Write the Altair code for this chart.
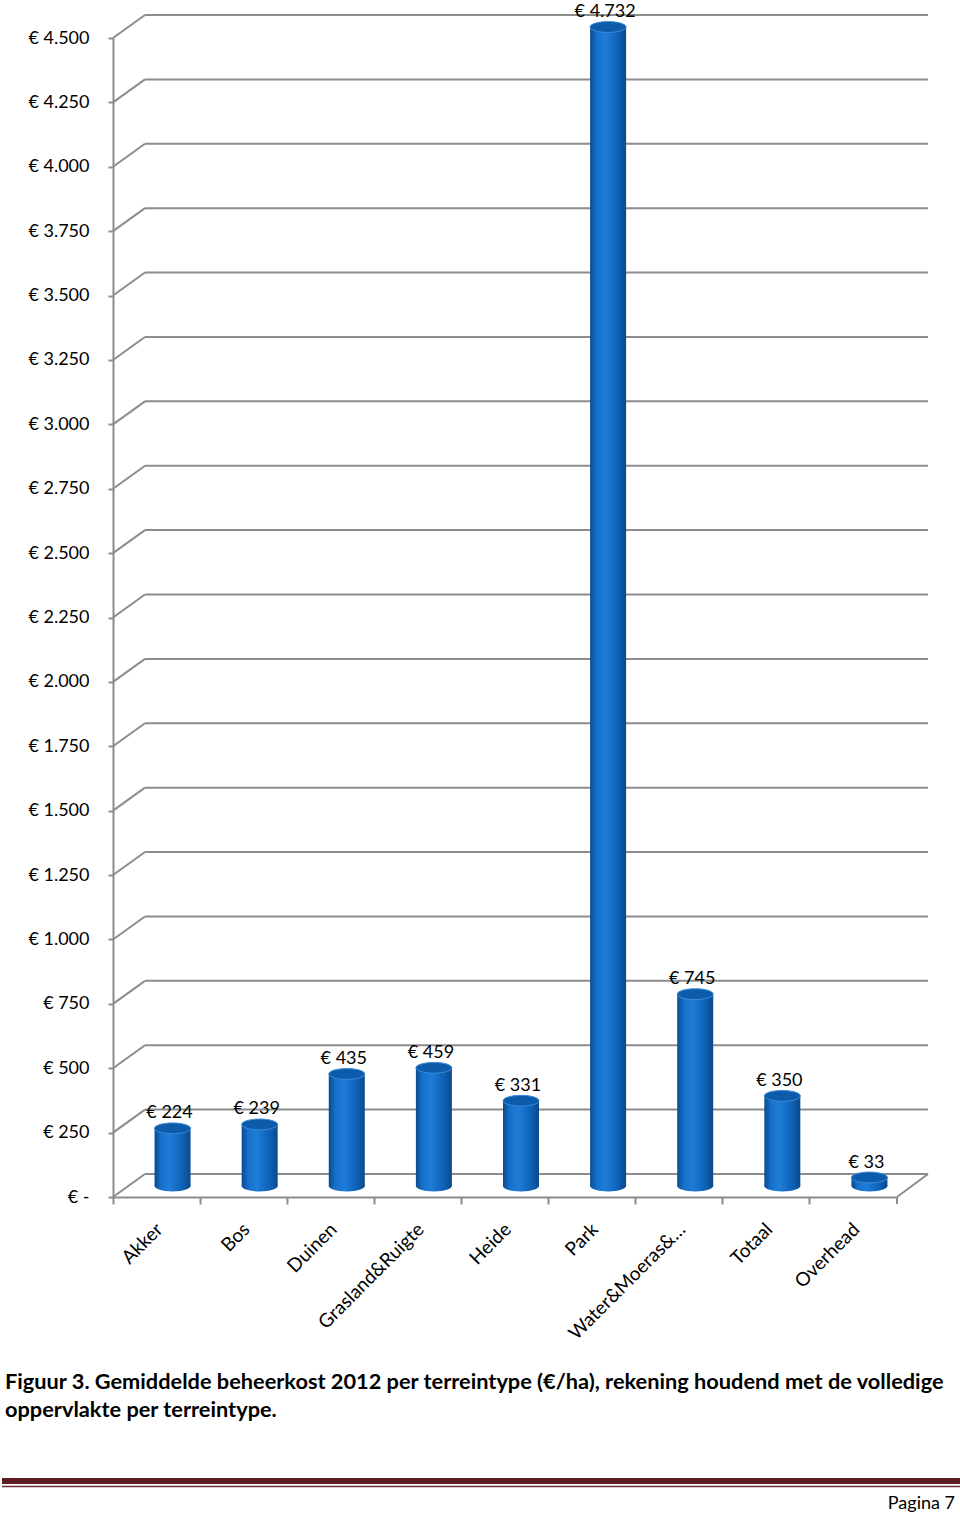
import altair as alt
import pandas as pd

categories = ["Akker", "Bos", "Duinen", "Grasland&Ruigte", "Heide", "Park",
              "Water&Moeras&…", "Totaal", "Overhead"]
values = [224, 239, 435, 459, 331, 4732, 745, 350, 33]
tick_values = list(range(0, 4501, 250))
caption_1 = "Figuur 3. Gemiddelde beheerkost 2012 per terreintype (€/ha), rekening houdend met de volledige"
caption_2 = "oppervlakte per terreintype."
page_label = "Pagina 7"

FONT = "Lato"
GRID = "#8C8C8C"

bars_df = pd.DataFrame({"cat": categories, "value": values})
ticks_df = pd.DataFrame({"v": tick_values})

yscale = alt.Scale(domain=[0, 4500], range=[1197, 38], clamp=True, nice=False, zero=True)
xscale = alt.Scale(domain=categories, range=[0, 784], paddingInner=0, paddingOuter=0)

euro_expr = "'€ ' + replace(format(datum.value, ','), ',', '.')"

yaxis = alt.Axis(
    title=None, values=tick_values,
    labelExpr="datum.value == 0 ? '€ -' : " + euro_expr,
    labelFont=FONT, labelFontSize=18, labelColor="#000000", labelPadding=19,
    tickSize=5, tickColor=GRID, tickWidth=2,
    domainColor=GRID, domainWidth=2, grid=False,
)
xaxis = alt.Axis(
    title=None, labelAngle=315, labelAlign="right", labelBaseline="middle",
    labelFont=FONT, labelFontSize=19, labelColor="#000000",
    bandPosition=0, labelOffset=3, labelPadding=22,
    tickSize=7, tickColor=GRID, tickWidth=2,
    domainColor=GRID, domainWidth=2, grid=False,
)

X = alt.X("cat:N", scale=xscale, axis=xaxis, sort=categories)

# 3D wall: diagonal connectors from the front axis to the back wall
diag = alt.Chart(ticks_df).mark_rule(color=GRID, strokeWidth=2, y2Offset=-23).encode(
    x=alt.value(0), x2=alt.value(32),
    y=alt.Y("v:Q", scale=yscale, axis=yaxis), y2=alt.Y2("v"),
)
back = alt.Chart(ticks_df).mark_rule(color=GRID, strokeWidth=2, yOffset=-23).encode(
    x=alt.value(32), x2=alt.value(815),
    y=alt.Y("v:Q", scale=yscale, axis=yaxis),
)
floor_df = pd.DataFrame({"v": [0]})
floor_right = alt.Chart(floor_df).mark_rule(color=GRID, strokeWidth=2, y2Offset=-23).encode(
    x=alt.value(784), x2=alt.value(815),
    y=alt.Y("v:Q", scale=yscale, axis=yaxis), y2=alt.Y2("v"),
)
last_tick = alt.Chart(floor_df).mark_rule(color=GRID, strokeWidth=2).encode(
    x=alt.value(784), y=alt.value(1197), y2=alt.value(1204),
)

bar_grad = {
    "gradient": "linear", "x1": 0, "y1": 0, "x2": 1, "y2": 0,
    "stops": [
        {"offset": 0, "color": "#0A4A8E"},
        {"offset": 0.18, "color": "#1670CA"},
        {"offset": 0.42, "color": "#1F7DD8"},
        {"offset": 0.75, "color": "#0F63BA"},
        {"offset": 1, "color": "#0A4A8C"},
    ],
}
ellipse = "M -1 0 A 1 0.3 0 1 1 1 0 A 1 0.3 0 1 1 -1 0 Z"

base = alt.Chart(bars_df)
bars = base.mark_bar(width=36, xOffset=16, yOffset=-11, y2Offset=-11, fill=bar_grad, strokeWidth=0).encode(
    x=X, y=alt.Y("value:Q", scale=yscale, axis=yaxis), y2=alt.datum(0),
)
bottoms = base.mark_point(shape=ellipse, size=1296, filled=True, fill=bar_grad, opacity=1,
                          strokeWidth=0, xOffset=16, yOffset=-11).encode(
    x=X, y=alt.datum(0, scale=yscale, axis=yaxis),
)
tops = base.mark_point(shape=ellipse, size=1296, filled=True, fill="#0D5CAC", opacity=1,
                       stroke="#3A8BD8", strokeWidth=1, xOffset=16, yOffset=-11).encode(
    x=X, y=alt.Y("value:Q", scale=yscale, axis=yaxis),
)
labels = base.transform_calculate(lbl=euro_expr).mark_text(
    font=FONT, fontSize=18, color="#000000", align="center", baseline="middle",
    xOffset=13, yOffset=-26,
).encode(
    x=X, y=alt.Y("value:Q", scale=yscale, axis=yaxis), text="lbl:N",
)

cap1 = alt.Chart(pd.DataFrame({"t": [caption_1]})).mark_text(
    font=FONT, fontSize=21.75, fontWeight="bold", align="left", baseline="alphabetic", color="#000000"
).encode(x=alt.value(-108), y=alt.value(1389), text="t:N")
cap2 = alt.Chart(pd.DataFrame({"t": [caption_2]})).mark_text(
    font=FONT, fontSize=21.75, fontWeight="bold", align="left", baseline="alphabetic", color="#000000"
).encode(x=alt.value(-108), y=alt.value(1417), text="t:N")
page = alt.Chart(pd.DataFrame({"t": [page_label]})).mark_text(
    font=FONT, fontSize=18, align="right", baseline="alphabetic", color="#000000"
).encode(x=alt.value(842), y=alt.value(1509), text="t:N")

band_df = pd.DataFrame({"k": [0]})
red_thick = alt.Chart(band_df).mark_rule(color="#5E1D22", strokeWidth=6).encode(
    x=alt.value(-111), x2=alt.value(847), y=alt.value(1481),
)
red_thin = alt.Chart(band_df).mark_rule(color="#6E2A2F", strokeWidth=1.5).encode(
    x=alt.value(-111), x2=alt.value(847), y=alt.value(1486.5),
)

chart = alt.layer(
    diag, back, floor_right, last_tick, bars, bottoms, tops, labels,
    cap1, cap2, page, red_thick, red_thin,
).properties(
    width=847, height=1197,
    padding={"left": 113, "top": 0, "right": 0, "bottom": 318},
    autosize=alt.AutoSizeParams(type="none"),
    background="#FFFFFF",
).configure_view(stroke=None)

chart.save("out.html", embed_options={"renderer": "svg", "actions": False})
